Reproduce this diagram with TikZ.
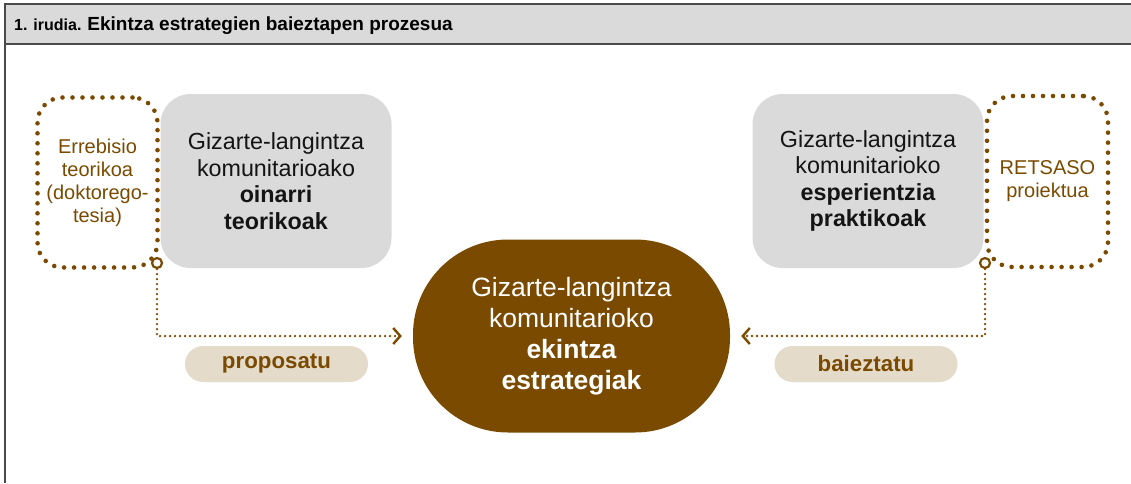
\documentclass[tikz,border=0pt]{standalone}
\usepackage{fontspec}
\setmainfont{Liberation Sans}
\usetikzlibrary{arrows.meta}
\usetikzlibrary{positioning}
\definecolor{stratbrown}{HTML}{7A4A00}
\definecolor{boxgray}{HTML}{DADADA}
\definecolor{pillbeige}{HTML}{E5DBCB}
\definecolor{framegray}{HTML}{4A4A4A}
\tikzset{greybox/.style = {fill=boxgray, rounded corners=30pt, minimum width=231pt,
                           minimum height=174pt, align=center, text=black!92,
                           font=\fontsize{23.3}{26.5}\selectfont}}
\tikzset{dotbox/.style = {draw=stratbrown, line width=4.6pt, line cap=round,
                          dash pattern=on 0pt off 10pt, rounded corners=25pt,
                          minimum width=120pt, minimum height=170pt, align=center,
                          text=stratbrown, font=\fontsize{20}{23}\selectfont}}
\tikzset{port/.style = {draw=stratbrown, fill=white, circle, line width=2.2pt,
                        inner sep=0, minimum size=10pt}}
\tikzset{flow/.style = {draw=stratbrown, line width=2.7pt, line cap=round,
                        dash pattern=on 0pt off 5pt, shorten >=11pt,
                        -{Straight Barb[length=7pt,width=16pt,line width=2.4pt]}}}
\tikzset{pill/.style = {fill=pillbeige, rounded corners=18pt, minimum width=183pt,
                        minimum height=36pt, text=stratbrown,
                        font=\fontsize{22.3}{24}\selectfont\bfseries}}

\begin{document}
\begin{tikzpicture}[x=1pt, y=-1pt]
      \useasboundingbox (0, 0) rectangle (1131, 483);
      % header
      \fill [boxgray] (5, 4) rectangle (1131, 44);
      \draw [framegray, line width=2pt] (1131, 4) -- (5, 4) -- (5, 483);
      \draw [framegray, line width=2pt] (5, 44) -- (1131, 44);
      \node [anchor=west, inner sep=0] (title) at (14, 26)
        {\bfseries\fontsize{16}{18}\selectfont 1. irudia. \fontsize{19}{21}\selectfont Ekintza estrategien baieztapen prozesua};

      % sources
      \node [greybox] (theory) at (276, 181)
        {Gizarte-langintza\\komunitarioako\\\textbf{oinarri}\\\textbf{teorikoak}};
      \node [dotbox] (review) at (97.5, 182.5)
        {Errebisio\\teorikoa\\(doktorego-\\tesia)};
      \node [greybox] (practice) at (868, 181)
        {Gizarte-langintza\\komunitarioko\\\textbf{esperientzia}\\\textbf{praktikoak}};
      \node [dotbox, minimum width=121pt, minimum height=171pt] (project) at (1047.5, 181.5)
        {RETSASO\\proiektua};

      % result
      \node [fill=stratbrown, rounded corners=95pt, minimum width=317pt, minimum height=193pt,
             align=center, text=white, font=\fontsize{26.5}{31}\selectfont] (strat) at (571.5, 336)
        {Gizarte-langintza\\komunitarioko\\\textbf{ekintza}\\\textbf{estrategiak}};

      \node [port] (lport) at (157, 263) {};
      \node [port] (rport) at (985, 263) {};

      \draw [flow] (lport) |- (strat);
      \draw [flow] (rport) |- (strat);

      \node [pill] (propose) at (276.5, 364) {proposatu};
      \node [pill] (confirm) at (866, 364) {baieztatu};
    \end{tikzpicture}
\end{document}
